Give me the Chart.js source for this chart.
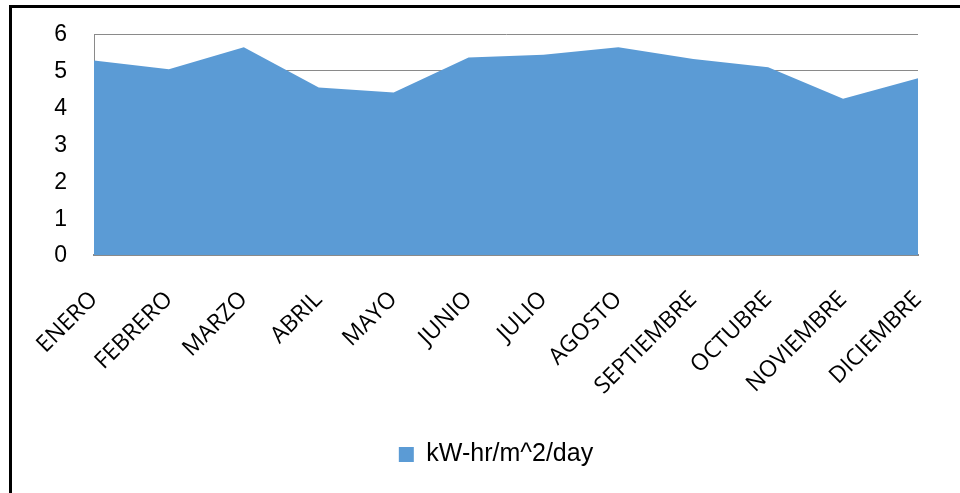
<!DOCTYPE html>
<html>
<head>
<meta charset="utf-8">
<script src="https://cdn.jsdelivr.net/npm/chart.js@4.4.1/dist/chart.umd.min.js"></script>
<style>
  html, body { margin: 0; padding: 0; background: #fff; }
  #wrap { position: relative; width: 960px; height: 493px; overflow: hidden; }
  #frame { position: absolute; left: 9px; top: 5px; width: 2000px; height: 2000px;
           border-left: 3px solid #000; border-top: 3px solid #000; pointer-events: none; }
  canvas { position: absolute; left: 0; top: 0; }
</style>
</head>
<body>
<div id="wrap">
  <canvas id="c" width="960" height="493"></canvas>
  <div id="frame"></div>
</div>
<script>
// Monthly solar irradiation
const months = ['ENERO', 'FEBRERO', 'MARZO', 'ABRIL', 'MAYO', 'JUNIO',
                'JULIO', 'AGOSTO', 'SEPTIEMBRE', 'OCTUBRE', 'NOVIEMBRE', 'DICIEMBRE'];
const irradiation = [5.28, 5.04, 5.64, 4.55, 4.41, 5.36, 5.44, 5.64, 5.32, 5.10, 4.24, 4.80];
const seriesName = 'kW-hr/m^2/day';
const yTicks = [0, 1, 2, 3, 4, 5, 6];

const axisGray = '#8a8a8a';

// nudge the legend slightly left of the plot's centre line
const legendShift = {
  id: 'legendShift',
  afterLayout(chart) {
    const lg = chart.legend;
    if (lg) { lg.left -= 10; lg.right -= 10; }
  }
};

new Chart(document.getElementById('c'), {
  type: 'line',
  data: {
    labels: months,
    datasets: [{
      label: seriesName,
      data: irradiation,
      fill: 'origin',
      backgroundColor: '#5B9BD5',
      borderColor: '#5B9BD5',
      borderWidth: 0,
      pointRadius: 0,
      pointHoverRadius: 0,
      tension: 0
    }]
  },
  plugins: [legendShift],
  options: {
    responsive: false,
    devicePixelRatio: 1,
    animation: false,
    events: [],
    layout: { padding: { left: 12, right: 42, top: 34, bottom: 16 } },
    plugins: {
      title: { display: false },
      tooltip: { enabled: false },
      legend: {
        position: 'bottom',
        align: 'center',
        fullSize: false,
        labels: {
          boxWidth: 15,
          boxHeight: 15,
          padding: 10,
          color: '#000',
          font: { family: '"Liberation Sans", Arial, sans-serif', size: 25 }
        }
      }
    },
    scales: {
      x: {
        offset: false,
        grid: { display: false, drawTicks: false },
        border: { display: true, color: axisGray, width: 2 },
        ticks: {
          autoSkip: false,
          minRotation: 45,
          maxRotation: 45,
          padding: 31,
          color: '#000',
          font: { family: '"Open Sans", sans-serif', size: 23 }
        },
        afterFit: (scale) => {
          scale.height = 177;
          scale.paddingLeft = 0;
          scale.paddingRight = 0;
        }
      },
      y: {
        min: 0,
        max: 6,
        afterBuildTicks: (scale) => { scale.ticks = yTicks.map(v => ({ value: v })); },
        grid: { color: axisGray, lineWidth: 1, drawTicks: false },
        border: { display: true, color: axisGray, width: 1 },
        ticks: {
          padding: 27,
          labelOffset: 1,
          color: '#000',
          font: { family: '"Liberation Sans", Arial, sans-serif', size: 23 }
        },
        afterFit: (scale) => {
          scale.width = 82;
          scale.paddingTop = 0;
          scale.paddingBottom = 0;
        }
      }
    }
  }
});
</script>
</body>
</html>
